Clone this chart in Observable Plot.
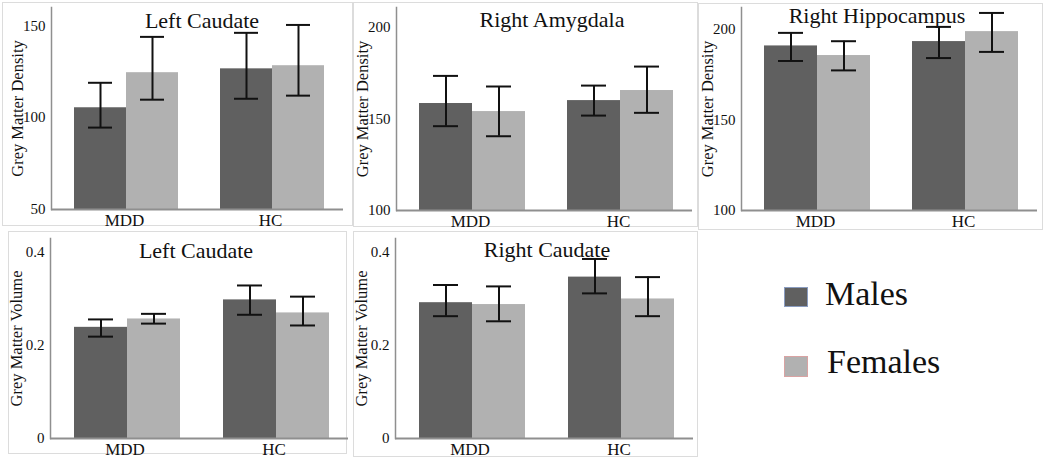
<!DOCTYPE html>
<html>
<head>
<meta charset="utf-8">
<script src="https://cdn.jsdelivr.net/npm/d3@7"></script>
<script src="https://cdn.jsdelivr.net/npm/@observablehq/plot@0.6"></script>
<style>
  html, body { margin: 0; padding: 0; background: #fff; }
  #root { position: relative; width: 1050px; height: 464px; overflow: hidden; font-family: "Liberation Serif", "Times New Roman", serif; color: #111; }
  .frame { position: absolute; box-sizing: border-box; border: 1.5px solid #dcdcdc; }
  .panel { position: absolute; }
  .panel svg { overflow: visible; }
  .panel svg text { font-family: "Liberation Serif", "Times New Roman", serif !important; fill: #111; }
  .panel svg g[aria-label="y-axis tick label"] { font-size: 15px; }
  .panel svg g[aria-label="y-axis label"] { font-size: 16.5px; }
  .panel svg g[aria-label="fx-axis tick label"] { font-size: 17px; }
  .title { position: absolute; transform: translateX(-50%); font-family: "Liberation Serif", serif; font-size: 22px; line-height: 22px; white-space: nowrap; color: #111; }
  .sw { position: absolute; box-sizing: border-box; border: 1.5px solid; }
  .lg { position: absolute; font-family: "Liberation Serif", serif; font-size: 34px; line-height: 34px; white-space: nowrap; color: #111; }
</style>
</head>
<body>
<div id="root"></div>
<script>
// ---- data (order of 4-value arrays: MDD Males, MDD Females, HC Males, HC Females) ----
const groups = ["MDD", "HC"];
const sexes = ["Males", "Females"];
const sexColors = ["#606060", "#b1b1b1"];
const sexBorders = ["#8a9cc0", "#d9a3a3"];

const titles = ["Left Caudate", "Right Amygdala", "Right Hippocampus", "Left Caudate", "Right Caudate"];
const yLabels = ["Grey Matter Density", "Grey Matter Density", "Grey Matter Density", "Grey Matter Volume", "Grey Matter Volume"];

const densityTicksLC = [50, 100, 150];
const densityTicksRA = [100, 150, 200];
const densityTicksRH = [100, 150, 200];
const volumeTicks = [0, 0.2, 0.4];

const lcDensityMean  = [105.4, 124.5, 126.6, 128.3];
const lcDensityLower = [94.6, 109.8, 110.3, 112.0];
const lcDensityUpper = [119.0, 144.0, 146.2, 150.5];

const raDensityMean  = [158.5, 154.1, 160.1, 165.6];
const raDensityLower = [146.1, 140.6, 151.9, 153.4];
const raDensityUpper = [173.6, 167.8, 168.3, 178.7];

const rhDensityMean  = [190.8, 185.5, 193.2, 198.7];
const rhDensityLower = [182.5, 177.3, 184.1, 187.5];
const rhDensityUpper = [198.0, 193.4, 201.3, 209.0];

const lcVolumeMean  = [0.239, 0.257, 0.298, 0.270];
const lcVolumeLower = [0.219, 0.247, 0.266, 0.243];
const lcVolumeUpper = [0.256, 0.268, 0.329, 0.305];

const rcVolumeMean  = [0.292, 0.288, 0.347, 0.300];
const rcVolumeLower = [0.263, 0.252, 0.312, 0.263];
const rcVolumeUpper = [0.330, 0.327, 0.386, 0.347];

// ---- layout ----
const root = document.getElementById("root");
const frames = [[2, 2, 353, 226], [353, 2, 698, 227], [698, 3, 1043, 230], [8, 231, 347, 454], [353, 231, 698, 457]];
frames.forEach(([x0, y0, x1, y1]) => {
  const d = document.createElement("div");
  d.className = "frame";
  Object.assign(d.style, {left: x0 + "px", top: y0 + "px", width: (x1 - x0) + "px", height: (y1 - y0) + "px"});
  root.appendChild(d);
});

const panels = [
  {left: 0,   top: 0,   h: 232, mt: 7,  mb: 23, mr: 7, domain: [50, 160],  ticks: densityTicksLC, mean: lcDensityMean, lower: lcDensityLower, upper: lcDensityUpper, tx: 202, ty: 10},
  {left: 345, top: 0,   h: 232, mt: 7,  mb: 22, mr: 3, domain: [100, 211], ticks: densityTicksRA, mean: raDensityMean, lower: raDensityLower, upper: raDensityUpper, tx: 552, ty: 9},
  {left: 690, top: 0,   h: 232, mt: 7,  mb: 22, mr: 3, domain: [100, 212], ticks: densityTicksRH, mean: rhDensityMean, lower: rhDensityLower, upper: rhDensityUpper, tx: 877, ty: 5},
  {left: 0,   top: 225, h: 235, mt: 13, mb: 22, mr: 2, domain: [0, 0.43],  ticks: volumeTicks, mean: lcVolumeMean, lower: lcVolumeLower, upper: lcVolumeUpper, tx: 196, ty: 240},
  {left: 345, top: 225, h: 235, mt: 13, mb: 22, mr: 2, domain: [0, 0.43],  ticks: volumeTicks, mean: rcVolumeMean, lower: rcVolumeLower, upper: rcVolumeUpper, tx: 547, ty: 239}
];

const serif = "'Liberation Serif', 'Times New Roman', serif";

panels.forEach((p, k) => {
  const rows = groups.flatMap((g, i) => sexes.map((s, j) => ({
    group: g, sex: s, mean: p.mean[i * 2 + j], lo: p.lower[i * 2 + j], hi: p.upper[i * 2 + j]
  })));
  const base = p.domain[0];
  const chart = Plot.plot({
    width: 350, height: p.h,
    marginLeft: 50, marginRight: p.mr, marginTop: p.mt, marginBottom: p.mb,
    style: {fontFamily: serif, fontSize: "15px", color: "#111", background: "none", overflow: "visible"},
    fx: {domain: groups, paddingInner: 0, paddingOuter: 0},
    x: {domain: sexes, paddingInner: 0, paddingOuter: 0.38, align: 0.55, axis: null},
    y: {domain: p.domain},
    color: {domain: sexes, range: sexColors},
    marks: [
      Plot.barY(rows, {fx: "group", x: "sex", y1: base, y2: "mean", fill: "sex"}),
      Plot.ruleX(rows, {fx: "group", x: "sex", y1: "lo", y2: "hi", stroke: "#111", strokeWidth: 2}),
      Plot.tickY(rows, {fx: "group", x: "sex", y: "hi", insetLeft: 14, insetRight: 14, stroke: "#111", strokeWidth: 2}),
      Plot.tickY(rows, {fx: "group", x: "sex", y: "lo", insetLeft: 14, insetRight: 14, stroke: "#111", strokeWidth: 2}),
      Plot.ruleY([base], {stroke: "#8f8f8f", strokeWidth: 2}),
      Plot.frame({anchor: "left", facetAnchor: "left", stroke: "#8f8f8f", strokeWidth: 1.5}),
      Plot.axisY({ticks: p.ticks, tickSize: 0, tickPadding: 6, tickFormat: d => String(d), fontSize: 15,
                  label: yLabels[k], labelAnchor: "center", labelOffset: 40, labelArrow: "none"}),
      Plot.axisFx({anchor: "bottom", tickSize: 0, tickPadding: 4, fontSize: 17, label: null})
    ]
  });
  const holder = document.createElement("div");
  holder.className = "panel";
  holder.style.left = p.left + "px";
  holder.style.top = p.top + "px";
  holder.appendChild(chart);
  root.appendChild(holder);

  const t = document.createElement("div");
  t.className = "title";
  t.textContent = titles[k];
  t.style.left = p.tx + "px";
  t.style.top = p.ty + "px";
  root.appendChild(t);
});

// ---- legend ----
const legendPos = [{sy: 287, sh: 20, tx: 825, ty: 277}, {sy: 356, sh: 21, tx: 827, ty: 345}];
sexes.forEach((s, i) => {
  const sw = document.createElement("div");
  sw.className = "sw";
  Object.assign(sw.style, {left: "784px", top: legendPos[i].sy + "px", width: "24px", height: legendPos[i].sh + "px",
    background: sexColors[i], borderColor: sexBorders[i]});
  root.appendChild(sw);
  const t = document.createElement("div");
  t.className = "lg";
  t.textContent = s;
  t.style.left = legendPos[i].tx + "px";
  t.style.top = legendPos[i].ty + "px";
  root.appendChild(t);
});
</script>
</body>
</html>
